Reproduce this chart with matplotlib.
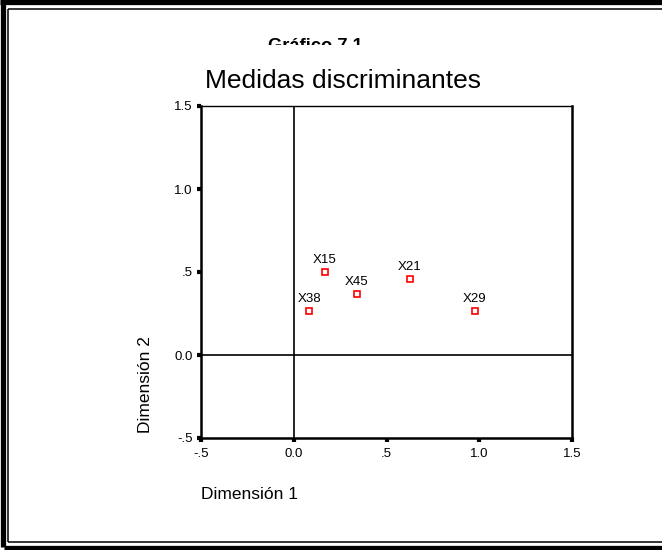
import matplotlib
matplotlib.use("Agg")
import matplotlib.pyplot as plt
from matplotlib.lines import Line2D
from matplotlib.transforms import Bbox

plt.rcParams['font.family'] = ['Liberation Sans', 'DejaVu Sans']

# discriminant measures per variable
labels = ['X15', 'X38', 'X45', 'X21', 'X29']
dim1 = [0.168, 0.083, 0.340, 0.627, 0.977]
dim2 = [0.500, 0.265, 0.367, 0.458, 0.265]

ticks = [-0.5, 0.0, 0.5, 1.0, 1.5]
tick_labels = ['-.5', '0.0', '.5', '1.0', '1.5']

W, H = 662, 550
fig = plt.figure(figsize=(W / 100, H / 100), dpi=100)
fig.patch.set_facecolor('white')


def fx(px):
    return px / W


def fy(py):
    return 1 - py / H


# double frame around the whole chart
thick = dict(color='black', lw=3.8, solid_capstyle='butt')
thin = dict(color='black', lw=1.1, solid_capstyle='butt')
fig.add_artist(Line2D([fx(2.5), fx(2.5)], [fy(0), fy(547)], transform=fig.transFigure, **thick))
fig.add_artist(Line2D([fx(0), fx(W)], [fy(1.8), fy(1.8)], transform=fig.transFigure, **thick))
fig.add_artist(Line2D([fx(4), fx(W)], [fy(547.5), fy(547.5)], transform=fig.transFigure, **thick))
fig.add_artist(Line2D([fx(8), fx(8)], [fy(9), fy(542)], transform=fig.transFigure, **thin))
fig.add_artist(Line2D([fx(8), fx(W)], [fy(9), fy(9)], transform=fig.transFigure, **thin))
fig.add_artist(Line2D([fx(8), fx(W)], [fy(542), fy(542)], transform=fig.transFigure, **thin))

# clipped header
t = fig.text(fx(315), fy(51), 'Gráfico 7.1', ha='center', va='baseline',
             fontsize=13.2, fontweight='bold')
t.set_clip_box(Bbox([[0, H - 45], [W, H]]))
t.set_clip_on(True)

fig.text(fx(343), fy(88), 'Medidas discriminantes', ha='center', va='baseline',
         fontsize=19)

ax = fig.add_axes([fx(201), fy(438), fx(572) - fx(201), fy(106) - fy(438)])
ax.set_xlim(-0.5, 1.5)
ax.set_ylim(-0.5, 1.5)

ax.axvline(0, color='black', lw=1.2)
ax.axhline(0, color='black', lw=1.2)

ax.plot(dim1, dim2, linestyle='none', marker='s', markersize=3.8,
        markerfacecolor='white', markeredgecolor='#ff0000', markeredgewidth=1.2)
for lab, x, y in zip(labels, dim1, dim2):
    ax.annotate(lab, (x, y), xytext=(0, 4.5), textcoords='offset points',
                ha='center', va='bottom', fontsize=9.5)

ax.set_xticks(ticks)
ax.set_xticklabels(tick_labels)
ax.set_yticks(ticks)
ax.set_yticklabels(tick_labels)
ax.tick_params(direction='out', length=3, width=3, labelsize=9.5, pad=3)
ax.tick_params(axis='x', pad=4)

for side in ['left', 'bottom', 'right']:
    ax.spines[side].set_linewidth(1.8)
ax.spines['top'].set_linewidth(1.0)

fig.text(fx(201), fy(499), 'Dimensión 1', ha='left', va='baseline', fontsize=12.5)
fig.text(fx(146), fy(385), 'Dimensión 2', ha='center', va='center',
         rotation=90, fontsize=12.5)

fig.savefig('out.png', dpi=100)
